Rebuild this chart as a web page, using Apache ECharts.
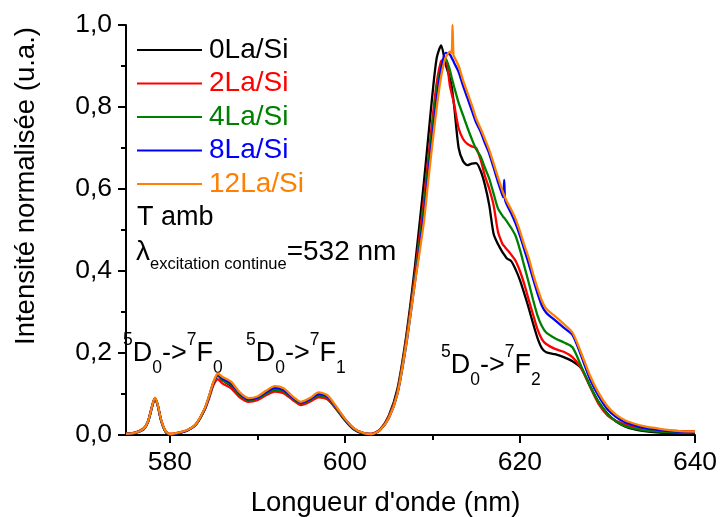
<!DOCTYPE html>
<html>
<head>
<meta charset="utf-8">
<script src="https://cdn.jsdelivr.net/npm/echarts@6/dist/echarts.min.js"></script>
<style>
html,body{margin:0;padding:0;background:#fff;}
#chart{width:720px;height:517px;}
</style>
</head>
<body>
<div id="chart"></div>
<script>
// Wavelength (nm)
const wavelength = [
  575, 576, 577, 577.5, 578, 578.3, 578.6, 579, 579.5, 580,
  581, 582, 583, 584, 584.5, 585, 585.5, 586, 587, 588,
  589, 590, 591, 592, 593, 594, 595, 596, 597, 598,
  599, 600, 601, 602, 603,
  604, 605, 606, 607, 608, 609, 609.5, 610, 610.5, 611,
  611.5, 612, 612.2, 612.3, 612.4, 612.5, 613, 613.5, 614, 614.5,
  615, 615.5, 616, 616.5, 617, 617.5, 618, 618.1, 618.2, 618.3,
  618.5, 619, 619.5, 620, 620.5, 621, 621.5, 622, 622.5, 623,
  624, 625, 626, 627, 628, 629, 630, 631, 632, 633,
  634, 636, 638, 640
];

const la0 = [
  .003,.005,.015,.032,.072,.090,.075,.037,.009,.001,
  .005,.011,.026,.064,.094,.128,.146,.134,.120,.096,
  .084,.088,.100,.110,.106,.089,.076,.084,.096,.090,
  .064,.036,.014,.004,.001,
  .013,.046,.112,.240,.410,.610,.720,.830,.920,.950,
  .905,.870,.850,.835,.818,.800,.700,.668,.658,.662,
  .663,.645,.610,.560,.490,.465,.446,.443,.440,.437,
  .431,.424,.404,.378,.345,.310,.272,.237,.212,.202,
  .197,.190,.180,.163,.120,.080,.052,.033,.021,.014,
  .010,.006,.004,.003
];

const la2 = [
  .004,.006,.016,.033,.071,.089,.074,.037,.010,.003,
  .006,.012,.026,.062,.090,.122,.136,.126,.114,.092,
  .081,.085,.097,.106,.102,.086,.073,.081,.092,.087,
  .064,.038,.016,.006,.003,
  .013,.045,.106,.232,.392,.570,.670,.770,.860,.912,
  .918,.852,.833,.824,.815,.805,.748,.722,.710,.704,
  .700,.672,.632,.600,.560,.495,.466,.463,.461,.458,
  .453,.440,.425,.400,.368,.330,.294,.258,.234,.222,
  .210,.203,.190,.163,.118,.075,.048,.034,.026,.020,
  .016,.012,.010,.009
];

const la4 = [
  .003,.005,.014,.031,.070,.089,.074,.036,.009,.001,
  .005,.011,.026,.063,.093,.126,.145,.134,.122,.098,
  .085,.089,.101,.111,.107,.090,.077,.085,.097,.091,
  .066,.038,.015,.005,.002,
  .012,.042,.102,.225,.380,.550,.650,.750,.838,.898,
  .918,.890,.872,.864,.856,.848,.810,.780,.750,.722,
  .697,.680,.652,.625,.588,.552,.535,.532,.530,.527,
  .521,.505,.486,.452,.412,.372,.330,.292,.266,.250,
  .236,.226,.214,.168,.120,.080,.051,.033,.022,.016,
  .012,.008,.006,.005
];

const la8 = [
  .003,.005,.014,.031,.071,.090,.075,.037,.009,.001,
  .005,.011,.026,.064,.094,.128,.147,.138,.126,.101,
  .087,.091,.104,.115,.110,.092,.079,.087,.100,.094,
  .068,.039,.016,.005,.002,
  .012,.040,.100,.218,.372,.530,.630,.728,.818,.893,
  .932,.928,.920,.916,.912,.907,.885,.852,.822,.792,
  .762,.740,.712,.686,.652,.617,.585,.580,.622,.574,
  .562,.541,.516,.486,.452,.418,.381,.346,.316,.298,
  .280,.262,.244,.193,.136,.095,.063,.044,.031,.024,
  .018,.012,.008,.006
];

const la12 = [
  .003,.005,.015,.032,.072,.091,.076,.038,.010,.002,
  .006,.012,.027,.066,.096,.130,.150,.142,.130,.104,
  .090,.094,.108,.119,.114,.095,.081,.090,.104,.097,
  .070,.040,.017,.006,.002,
  .012,.040,.100,.220,.370,.515,.615,.710,.800,.875,
  .920,.935,.932,1.000,.928,.922,.900,.865,.835,.805,
  .772,.748,.722,.695,.662,.628,.596,.590,.585,.580,
  .570,.550,.527,.497,.463,.432,.393,.358,.328,.308,
  .290,.271,.250,.200,.145,.102,.070,.049,.036,.028,
  .022,.015,.010,.008
];

const seriesNames = ['0La/Si', '2La/Si', '4La/Si', '8La/Si', '12La/Si'];
const seriesValues = [la0, la2, la4, la8, la12];
const seriesColors = ['#000000', '#ff0000', '#008000', '#0000ff', '#ff8000'];

const xTickLabels = [580, 600, 620, 640];
const xMinorTicks = [590, 610, 630];
const yTickLabels = [0, 0.2, 0.4, 0.6, 0.8, 1.0];

const FONT = '"Liberation Sans", Arial, sans-serif';

const chart = echarts.init(document.getElementById('chart'), null, {renderer: 'canvas'});

const series = seriesNames.map((name, k) => ({
  name: name,
  type: 'line',
  xAxisIndex: 0,
  yAxisIndex: 0,
  showSymbol: false,
  smooth: 0.25,
  color: seriesColors[k],
  lineStyle: {width: 2.3, color: seriesColors[k]},
  data: wavelength.map((w, i) => [w, seriesValues[k][i]])
}));

function transition(sub) {
  return {
    text: '{p|5}{m|D}{b|0}{m|->}{p|7}{m|F}{b|' + sub + '}',
    align: 'left', verticalAlign: 'top',
    rich: {
      m: {fontSize: 27, fontFamily: FONT, lineHeight: 46, verticalAlign: 'middle', fill: '#000'},
      p: {fontSize: 17.5, fontFamily: FONT, lineHeight: 17, verticalAlign: 'top', fill: '#000'},
      b: {fontSize: 17.5, fontFamily: FONT, lineHeight: 17, verticalAlign: 'bottom', fill: '#000'}
    }
  };
}

const option = {
  animation: false,
  backgroundColor: '#ffffff',
  grid: {left: 126, right: 25, top: 25, bottom: 82, containLabel: false, outerBoundsMode: 'none'},
  legend: {
    orient: 'vertical',
    left: 137,
    top: 36,
    padding: 0,
    icon: 'rect',
    itemWidth: 65,
    itemHeight: 2,
    itemGap: 5.5,
    textStyle: {fontSize: 28, fontFamily: FONT, lineHeight: 28, padding: [0, 0, 0, 2]},
    data: seriesNames.map((n, k) => ({name: n, textStyle: {color: seriesColors[k]}}))
  },
  xAxis: [
    {
      type: 'value',
      min: 575,
      max: 640,
      position: 'bottom',
      name: "Longueur d'onde (nm)",
      nameLocation: 'middle',
      nameGap: 54,
      nameTextStyle: {fontSize: 27.5, fontFamily: FONT, color: '#000', padding: [0, 50, 0, 0]},
      axisLine: {show: true, onZero: false, lineStyle: {color: '#000', width: 2}},
      axisTick: {show: true, inside: false, length: 8, lineStyle: {color: '#000', width: 2}, customValues: xTickLabels},
      axisLabel: {show: true, margin: 14, fontSize: 26.5, fontFamily: FONT, color: '#000', customValues: xTickLabels},
      splitLine: {show: false}
    },
    {
      type: 'value',
      min: 575,
      max: 640,
      position: 'bottom',
      axisLine: {show: false, onZero: false},
      axisTick: {show: true, inside: false, length: 5, lineStyle: {color: '#000', width: 2}, customValues: xMinorTicks},
      axisLabel: {show: false},
      splitLine: {show: false}
    }
  ],
  yAxis: {
    type: 'value',
    min: 0,
    max: 1,
    interval: 0.2,
    axisLine: {show: true, onZero: false, lineStyle: {color: '#000', width: 2}},
    axisTick: {show: true, inside: false, length: 8, lineStyle: {color: '#000', width: 2}, customValues: yTickLabels},
    minorTick: {show: true, splitNumber: 2, length: 5, lineStyle: {color: '#000', width: 2}},
    axisLabel: {
      margin: 14, fontSize: 26.5, fontFamily: FONT, color: '#000',
      customValues: yTickLabels,
      formatter: v => v.toFixed(1).replace('.', ',')
    },
    splitLine: {show: false},
    minorSplitLine: {show: false}
  },
  graphic: [
    {
      type: 'text', x: 26, y: 186, rotation: Math.PI / 2,
      style: {text: 'Intensité normalisée (u.a.)', font: '27.5px ' + FONT, fill: '#000', align: 'center', verticalAlign: 'middle'}
    },
    {
      type: 'text', x: 137, y: 204,
      style: {text: 'T amb', font: '27px ' + FONT, fill: '#000', align: 'left', verticalAlign: 'top'}
    },
    {
      type: 'text', x: 136, y: 231,
      style: {
        text: '{m|λ}{s|excitation continue}{m|=532 nm}',
        align: 'left', verticalAlign: 'top', fill: '#000',
        rich: {
          m: {fontSize: 28, fontFamily: FONT, lineHeight: 42, verticalAlign: 'middle', fill: '#000'},
          s: {fontSize: 16.5, fontFamily: FONT, lineHeight: 16, verticalAlign: 'bottom', fill: '#000'}
        }
      }
    },
    {type: 'text', x: 123, y: 331, style: transition('0')},
    {type: 'text', x: 246, y: 331, style: transition('1')},
    {type: 'text', x: 441, y: 343, style: transition('2')}
  ],
  series: series
};

chart.setOption(option);
</script>
</body>
</html>
